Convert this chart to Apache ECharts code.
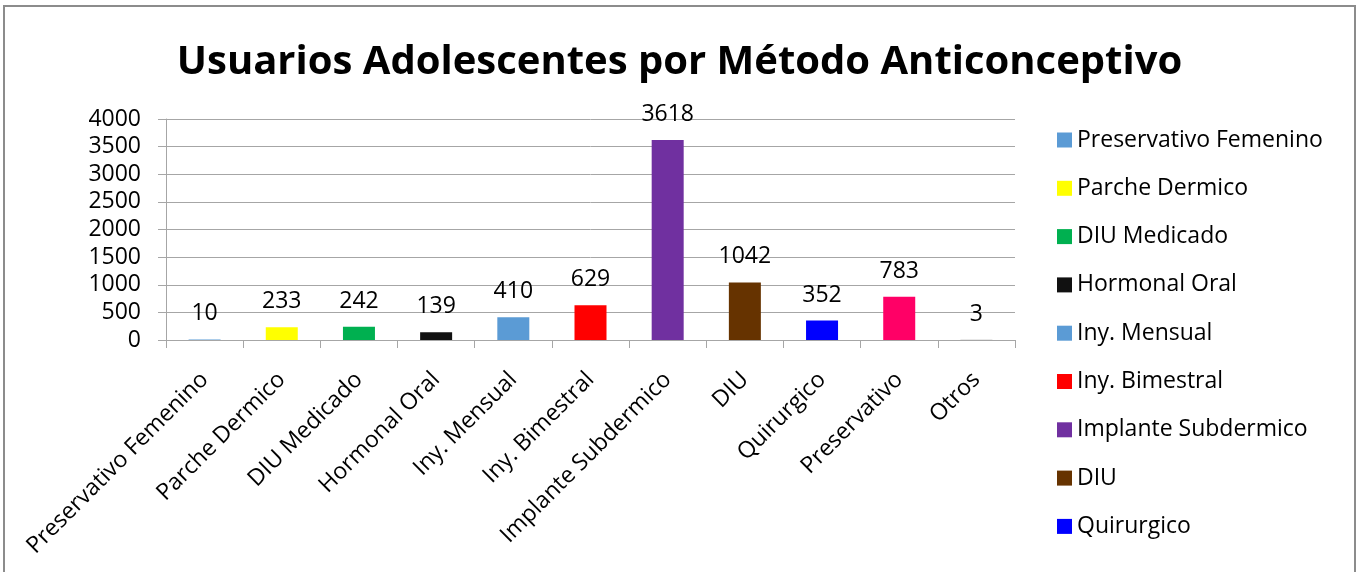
<!DOCTYPE html>
<html>
<head>
<meta charset="utf-8">
<script src="https://cdn.jsdelivr.net/npm/echarts@6/dist/echarts.min.js"></script>
<style>
  html, body { margin: 0; padding: 0; background: #ffffff; }
  #chart { width: 1359px; height: 572px; }
</style>
</head>
<body>
<div id="chart"></div>
<script>
// Contraceptive methods used by adolescents
const categories = [
  'Preservativo Femenino', 'Parche Dermico', 'DIU Medicado', 'Hormonal Oral',
  'Iny. Mensual', 'Iny. Bimestral', 'Implante Subdermico', 'DIU',
  'Quirurgico', 'Preservativo', 'Otros'
];
const usuarios = [10, 233, 242, 139, 410, 629, 3618, 1042, 352, 783, 3];
const colores = [
  '#5B9BD5', '#FFFF00', '#00B050', '#111111', '#5B9BD5', '#FF0000',
  '#7030A0', '#663300', '#0000FF', '#FF0066', '#A5A5A5'
];
// Legend entries that fit in the panel
const legendItems = categories.slice(0, 9);
const yTicks = { min: 0, max: 4000, interval: 500 };

const FONT = "'Open Sans', 'Noto Sans', sans-serif";
const SIZE = 23;

// One series per method so each gets its own legend entry; stacking keeps one bar per slot
const series = categories.map((name, i) => ({
  name: name,
  type: 'bar',
  stack: 'metodo',
  barWidth: 32,
  itemStyle: { color: colores[i] },
  label: {
    show: true,
    position: 'top',
    distance: 14,
    color: '#000',
    fontFamily: FONT,
    fontSize: SIZE
  },
  data: categories.map((c, j) => (j === i ? usuarios[i] : '-'))
}));

const chart = echarts.init(document.getElementById('chart'), null, { renderer: 'canvas' });
chart.setOption({
  animation: false,
  backgroundColor: '#ffffff',
  title: {
    text: 'Usuarios Adolescentes por Método Anticonceptivo',
    left: 'center',
    top: 38,
    textStyle: { fontFamily: FONT, fontWeight: 'bold', fontSize: 40, color: '#000' }
  },
  legend: {
    orient: 'vertical',
    left: 1057,
    top: 128,
    height: 460,
    padding: 0,
    itemWidth: 15,
    itemHeight: 15,
    itemGap: 24.3,
    icon: 'rect',
    data: legendItems,
    textStyle: { fontFamily: FONT, fontSize: SIZE, color: '#000', lineHeight: 24 }
  },
  grid: { left: 166, right: 344, top: 119, bottom: 232, containLabel: false },
  xAxis: {
    type: 'category',
    data: categories,
    axisLine: { lineStyle: { color: '#A6A6A6', width: 1 } },
    axisTick: { show: true, length: 8, alignWithLabel: false, lineStyle: { color: '#A6A6A6' } },
    axisLabel: {
      interval: 0,
      rotate: 45,
      margin: 36,
      color: '#000',
      fontFamily: FONT,
      fontSize: SIZE
    }
  },
  yAxis: {
    type: 'value',
    min: yTicks.min,
    max: yTicks.max,
    interval: yTicks.interval,
    axisLine: { show: true, lineStyle: { color: '#A6A6A6', width: 1 } },
    axisTick: { show: true, length: 8, lineStyle: { color: '#A6A6A6' } },
    splitLine: { show: true, lineStyle: { color: '#A6A6A6', width: 1 } },
    axisLabel: {
      margin: 25,
      color: '#000',
      fontFamily: FONT,
      fontSize: SIZE,
      formatter: (v) => String(v)
    }
  },
  graphic: [{
    type: 'rect',
    silent: true,
    shape: { x: 4, y: 6, width: 1351, height: 600 },
    style: { fill: 'none', stroke: '#8C8C8C', lineWidth: 2 }
  }],
  series: series
});
</script>
</body>
</html>
